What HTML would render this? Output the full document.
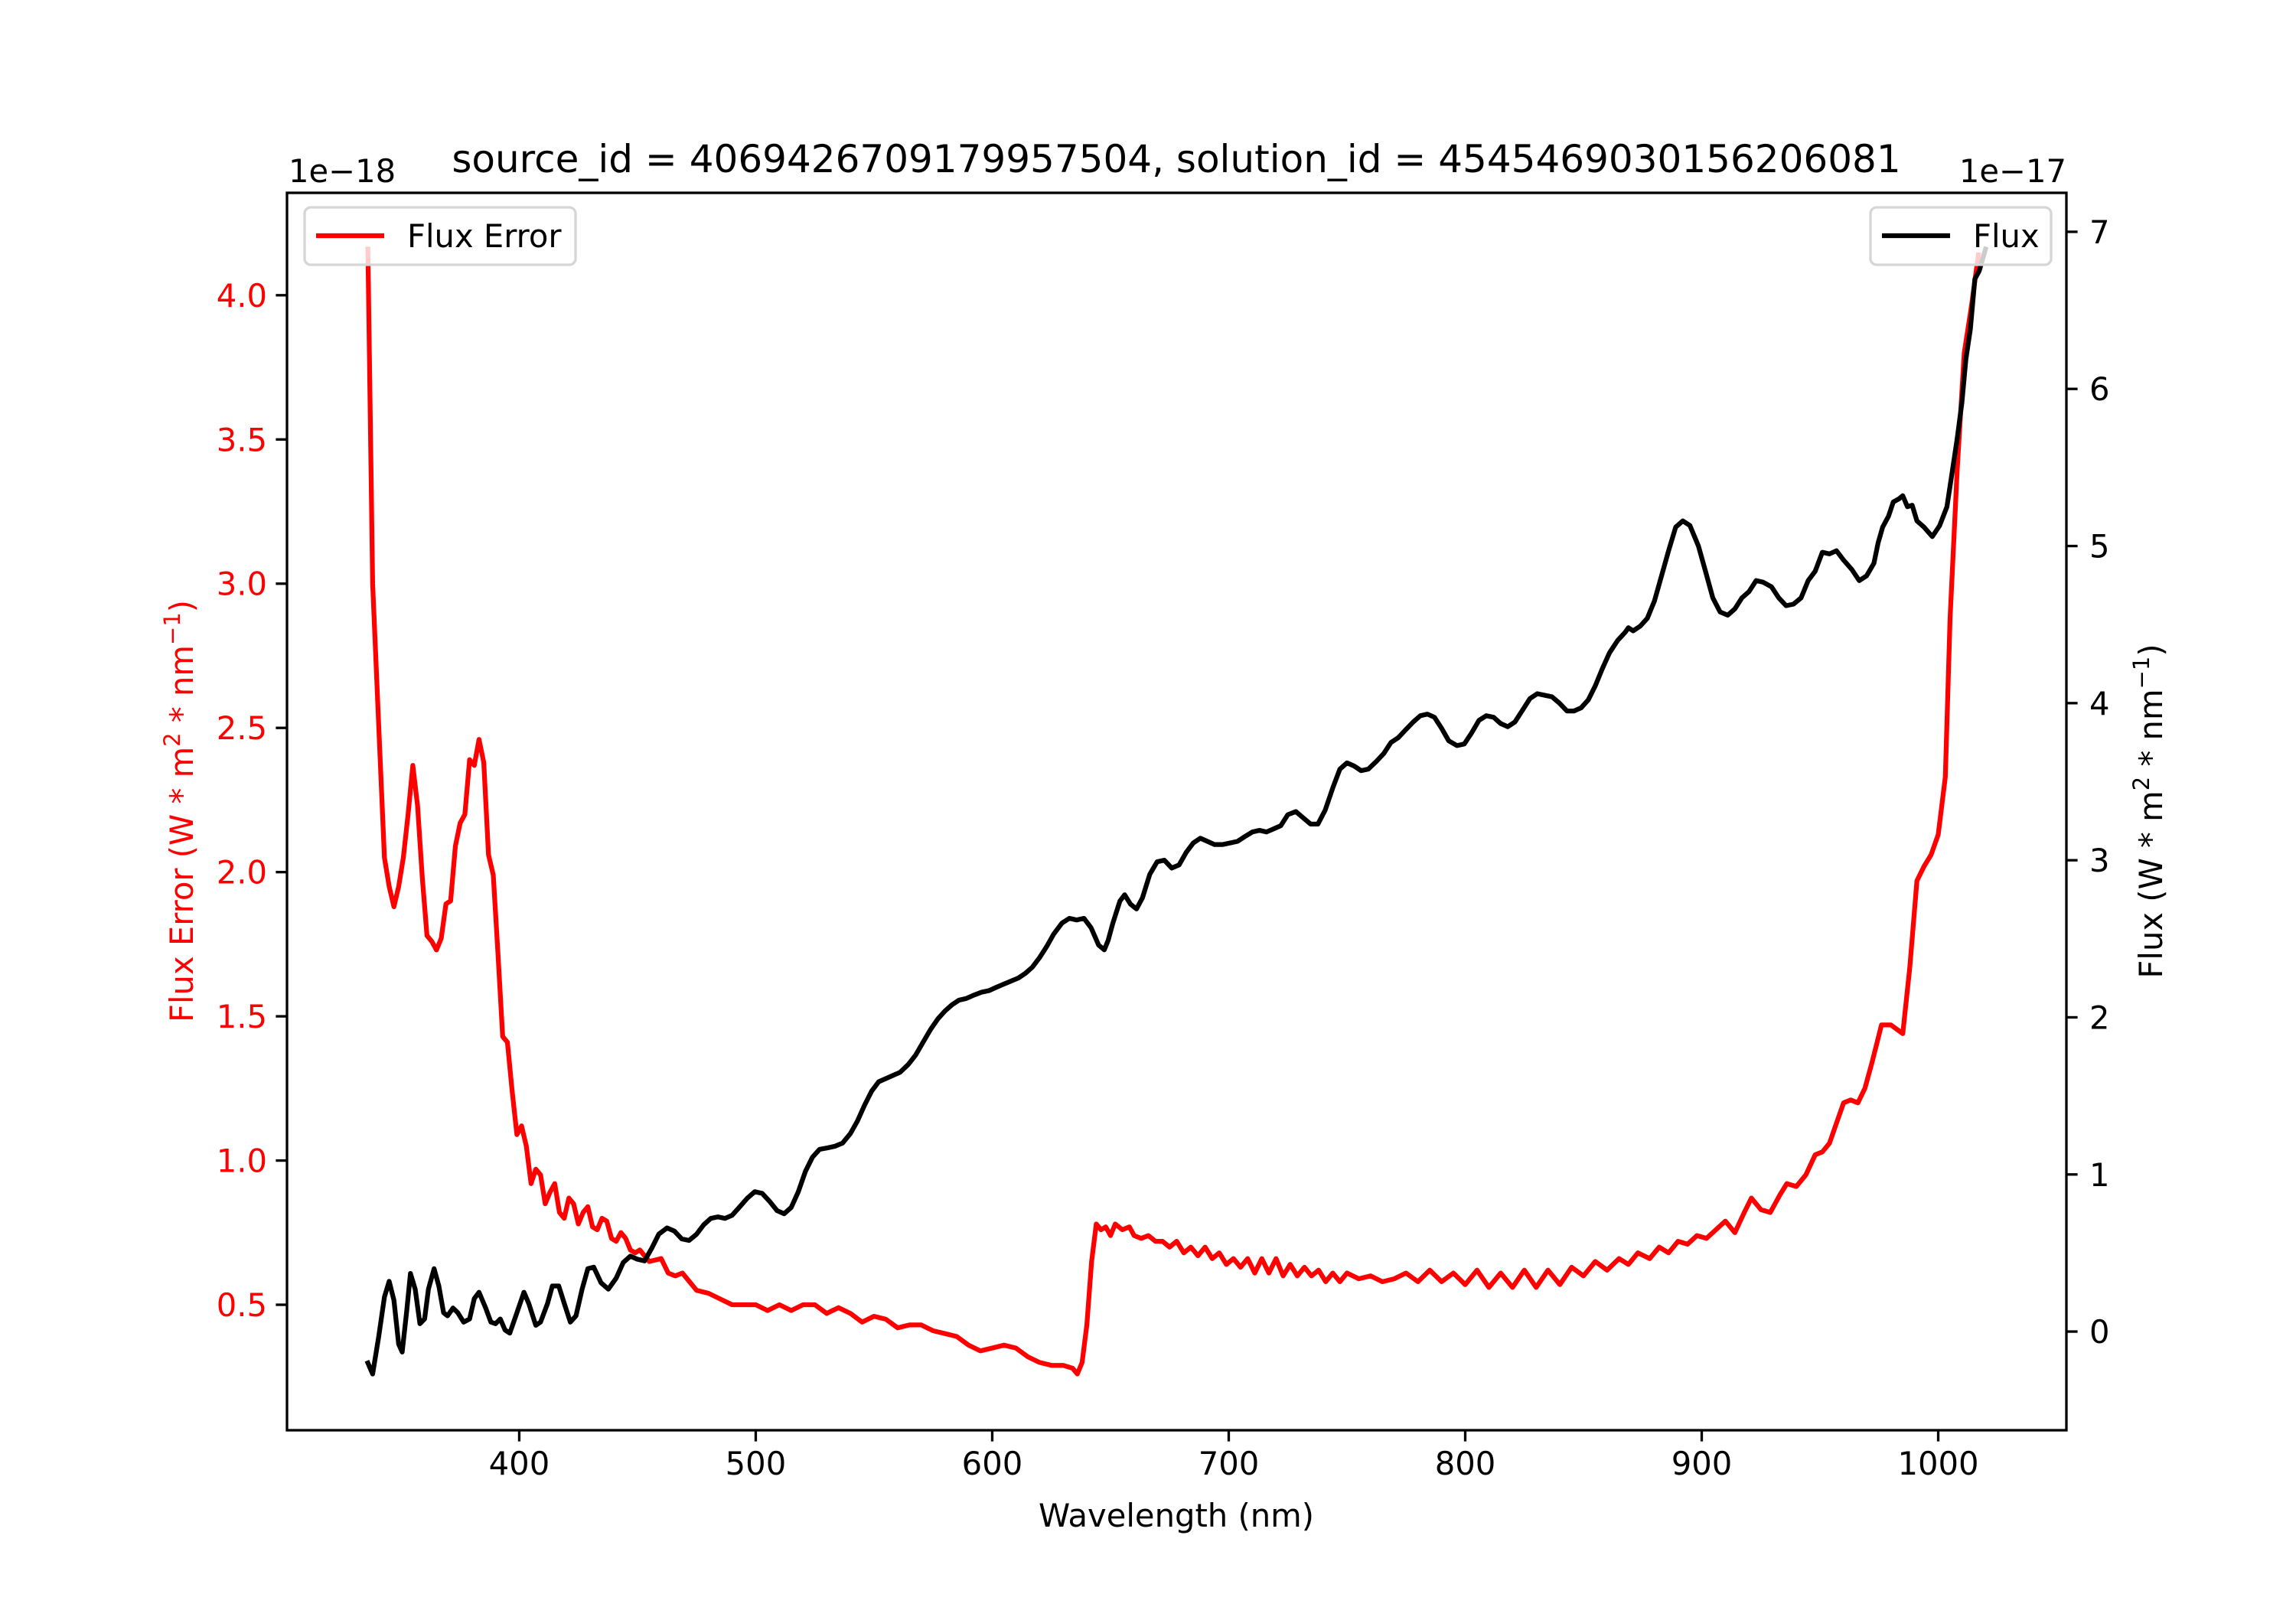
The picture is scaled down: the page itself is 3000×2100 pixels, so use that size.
<!DOCTYPE html>
<html><head><meta charset="utf-8"><style>
html,body{margin:0;padding:0;background:#fff;}
svg{display:block;font-family:"DejaVu Sans","Liberation Sans",sans-serif;}
</style></head><body>
<svg id="chart" width="3000" height="2100" viewBox="0 0 3000 2100" xmlns="http://www.w3.org/2000/svg">
<rect x="0" y="0" width="3000" height="2100" fill="#fff"/>
<g id="plot"></g>
</svg>
<script>
const errWl = [336,338,341,343,345,347,349,351,353,355,357,359,361,363,365,367,369,371,373,375,377,379,381,383,385,387,389,391,393,395,397,399,401,403,405,407,409,411,413,415,417,419,421,423,425,427,429,431,433,435,437,439,441,443,445,447,449,451,453,455,460,463,466,469,472,475,480,485,490,495,500,505,510,515,520,525,530,535,540,545,550,555,560,565,570,575,580,585,590,595,600,605,610,615,620,625,630,634,636,638,640,642,644,646,648,650,652,655,658,660,663,666,669,672,675,678,681,684,687,690,693,696,699,702,705,708,711,714,717,720,723,726,729,732,735,738,741,744,747,750,755,760,765,770,775,780,785,790,795,800,805,810,815,820,825,830,835,840,845,850,855,860,865,869,873,878,882,886,890,894,898,902,906,910,914,918,921,925,929,933,936,940,944,948,951,954,957,960,963,966,969,972,976,980,985,988,991,994,997,1000,1003,1005,1008,1011,1014,1017,1020];
const errVal = [4.16,3.0,2.43,2.05,1.95,1.88,1.95,2.05,2.2,2.37,2.23,1.98,1.78,1.76,1.73,1.77,1.89,1.90,2.09,2.17,2.2,2.39,2.37,2.46,2.38,2.06,1.99,1.72,1.43,1.41,1.24,1.09,1.12,1.05,0.92,0.97,0.95,0.85,0.89,0.92,0.82,0.80,0.87,0.85,0.78,0.82,0.84,0.77,0.76,0.80,0.79,0.73,0.72,0.75,0.73,0.69,0.68,0.69,0.67,0.65,0.66,0.61,0.60,0.61,0.58,0.55,0.54,0.52,0.50,0.50,0.50,0.48,0.50,0.48,0.50,0.50,0.47,0.49,0.47,0.44,0.46,0.45,0.42,0.43,0.43,0.41,0.40,0.39,0.36,0.34,0.35,0.36,0.35,0.32,0.30,0.29,0.29,0.28,0.26,0.30,0.43,0.65,0.78,0.76,0.77,0.74,0.78,0.76,0.77,0.74,0.73,0.74,0.72,0.72,0.70,0.72,0.68,0.70,0.67,0.70,0.66,0.68,0.64,0.66,0.63,0.66,0.61,0.66,0.61,0.66,0.60,0.64,0.60,0.63,0.60,0.62,0.58,0.61,0.58,0.61,0.59,0.60,0.58,0.59,0.61,0.58,0.62,0.58,0.61,0.57,0.62,0.56,0.61,0.56,0.62,0.56,0.62,0.57,0.63,0.60,0.65,0.62,0.66,0.64,0.68,0.66,0.70,0.68,0.72,0.71,0.74,0.73,0.76,0.79,0.75,0.82,0.87,0.83,0.82,0.88,0.92,0.91,0.95,1.02,1.03,1.06,1.13,1.20,1.21,1.20,1.25,1.34,1.47,1.47,1.44,1.67,1.97,2.02,2.06,2.13,2.33,2.88,3.39,3.80,3.96,4.14];
const fluxWl = [336,338,340.6,343,345,347,349,350.5,352.4,354,356,358,360,361.6,364,366,368,369.7,372,374,376.5,379,381,383,385.8,388,390,392,394,396,398.8,402,404,407,409,412,414,416.7,419,421.6,424,426.6,429,431.5,434.6,437.7,441,444,447,450,453,456,459,462.5,465.6,468.7,471.8,475,478,481,484,487,490,493,496.5,499.6,502.7,505.8,509,512,515,518,521,524,527,530.5,533.6,536.7,540,543,546,549,552,555,558,561,564.5,567.6,570.7,573.8,577,580,583,586,589,592,595.5,598.6,601.6,604.7,607.8,611,614,617,620,623,626,629.5,632.6,635.7,638.8,641.8,645,647.4,649,651,654,656,658.5,661,663.5,666.6,669.7,672.8,675.9,679,682,685,688,691,694,697.5,700.6,703.7,706.8,710,713,716,719,722,725,728.4,731.5,734.6,737.7,740.8,744,747,750,753,756,759,762.5,765.6,768.6,771.7,774.8,778,781,784,787,790,793,796.5,799.6,802.7,805.8,808.9,812,815,818,821,824,827.4,830.5,833.6,836.7,839.8,843,846,849,852,855,858,861,864.5,867.6,869,871,874,877,880,883,886,889,892,895,898.6,901.6,904.7,907.8,911,914,917,920,923,926,929.5,932.6,935.7,938.8,942,945,948,951,954,957,960,963.5,966.6,969.7,972.8,974.6,976.5,979,981,983.4,985,987,989,991,994,997.5,1000.6,1003.7,1005.6,1008,1010,1011.7,1013.6,1015.5,1017.3,1020];
const fluxVal = [-0.20,-0.27,-0.03,0.22,0.32,0.20,-0.08,-0.13,0.13,0.37,0.27,0.05,0.08,0.27,0.40,0.29,0.12,0.10,0.15,0.12,0.06,0.08,0.21,0.25,0.15,0.06,0.05,0.08,0.01,-0.01,0.11,0.25,0.18,0.04,0.06,0.18,0.29,0.29,0.18,0.06,0.10,0.27,0.40,0.41,0.31,0.27,0.34,0.44,0.48,0.46,0.45,0.53,0.62,0.66,0.64,0.59,0.58,0.62,0.68,0.72,0.73,0.72,0.74,0.79,0.85,0.89,0.88,0.83,0.77,0.75,0.79,0.89,1.02,1.11,1.16,1.17,1.18,1.20,1.26,1.34,1.44,1.53,1.59,1.61,1.63,1.65,1.70,1.76,1.84,1.92,1.99,2.04,2.08,2.11,2.12,2.14,2.16,2.17,2.19,2.21,2.23,2.25,2.28,2.32,2.38,2.45,2.53,2.60,2.63,2.62,2.63,2.57,2.46,2.43,2.49,2.60,2.74,2.78,2.72,2.69,2.76,2.91,2.99,3.00,2.95,2.97,3.05,3.11,3.14,3.12,3.10,3.10,3.11,3.12,3.15,3.18,3.19,3.18,3.20,3.22,3.29,3.31,3.27,3.23,3.23,3.32,3.46,3.58,3.62,3.60,3.57,3.58,3.63,3.68,3.75,3.78,3.83,3.88,3.92,3.93,3.91,3.84,3.76,3.73,3.74,3.81,3.89,3.92,3.91,3.87,3.85,3.88,3.95,4.03,4.06,4.05,4.04,4.00,3.95,3.95,3.97,4.02,4.11,4.22,4.32,4.40,4.45,4.48,4.46,4.49,4.54,4.65,4.81,4.97,5.12,5.16,5.13,5.00,4.84,4.67,4.58,4.56,4.60,4.67,4.71,4.78,4.77,4.74,4.67,4.62,4.63,4.67,4.78,4.84,4.96,4.95,4.97,4.91,4.85,4.78,4.81,4.89,5.02,5.12,5.19,5.28,5.30,5.32,5.25,5.26,5.16,5.12,5.06,5.13,5.25,5.44,5.68,5.91,6.19,6.38,6.70,6.75,6.89];
const xTicks = [400,500,600,700,800,900,1000];
const errTicks = [0.5,1.0,1.5,2.0,2.5,3.0,3.5,4.0];
const fluxTicks = [0,1,2,3,4,5,6,7];

const NS="http://www.w3.org/2000/svg";
const L=375,R=2700,T=252,B=1869;
function lim(a){const mn=Math.min(...a),mx=Math.max(...a),m=(mx-mn)*0.05;return [mn-m,mx+m];}
const allX=errWl.concat(fluxWl);
const [x0,x1]=lim(allX);
const [e0,e1]=lim(errVal);
const [f0,f1]=lim(fluxVal);
function sx(v){return L+(v-x0)/(x1-x0)*(R-L);}
function se(v){return B-(v-e0)/(e1-e0)*(B-T);}
function sf(v){return B-(v-f0)/(f1-f0)*(B-T);}
const g=document.getElementById('plot');
function mk(tag,attrs,parent){const e=document.createElementNS(NS,tag);for(const k in attrs)e.setAttribute(k,attrs[k]);(parent||g).appendChild(e);return e;}

const defs=mk('defs',{});
const cp=mk('clipPath',{id:'clip'},defs);
mk('rect',{x:L,y:T,width:R-L,height:B-T},cp);

const errPath=mk('path',{d:errWl.map((w,i)=>(i?'L':'M')+sx(w).toFixed(1)+','+se(errVal[i]).toFixed(1)).join(''),fill:'none',stroke:'#ff0000','stroke-width':6.25,'stroke-linejoin':'round','stroke-linecap':'square','clip-path':'url(#clip)'});


const fluxPath=mk('path',{d:fluxWl.map((w,i)=>(i?'L':'M')+sx(w).toFixed(1)+','+sf(fluxVal[i]).toFixed(1)).join(''),fill:'none',stroke:'#000','stroke-width':6.25,'stroke-linejoin':'round','stroke-linecap':'square','clip-path':'url(#clip)'});



const fr=mk('rect',{x:L,y:T,width:R-L,height:B-T,fill:'none',stroke:'#000','stroke-width':3.3});



xTicks.forEach(v=>{const x=sx(v);
 const t=mk('line',{x1:x,y1:B,x2:x,y2:B+14.6,stroke:'#000','stroke-width':3.3});
 
 
 const tx=mk('text',{x:x,y:B+58,'font-size':41.7,'text-anchor':'middle',fill:'#000'});tx.textContent=v;
 
 
});
errTicks.forEach(v=>{const y=se(v);
 const t=mk('line',{x1:L,y1:y,x2:L-14.6,y2:y,stroke:'#000','stroke-width':3.3});
 
 
 const tx=mk('text',{x:L-26,y:y+15,'font-size':41.7,'text-anchor':'end',fill:'#ff0000'});tx.textContent=v.toFixed(1);
 
 
});
fluxTicks.forEach(v=>{const y=sf(v);
 const t=mk('line',{x1:R,y1:y,x2:R+14.6,y2:y,stroke:'#000','stroke-width':3.3});
 
 
 const tx=mk('text',{x:R+30,y:y+15,'font-size':41.7,'text-anchor':'start',fill:'#000'});tx.textContent=v;
 
 
});
</script>
<svg style="position:absolute;left:0;top:0" width="3000" height="2100" viewBox="0 0 3000 2100" xmlns="http://www.w3.org/2000/svg" font-family="DejaVu Sans, Liberation Sans, sans-serif">
<text x="1537" y="225" font-size="50" text-anchor="middle">source_id = 4069426709179957504, solution_id = 4545469030156206081</text>
<text x="377" y="238" font-size="41.7">1e−18</text>
<text x="2700" y="238" font-size="41.7" text-anchor="end">1e−17</text>
<text x="1537" y="1995" font-size="41.7" text-anchor="middle">Wavelength (nm)</text>
<text transform="translate(252,1060) rotate(-90)" font-size="41.7" text-anchor="middle" fill="#ff0000">Flux Error (W * m<tspan baseline-shift="super" font-size="29">2</tspan> * nm<tspan baseline-shift="super" font-size="29">−1</tspan>)</text>
<text transform="translate(2825,1060) rotate(-90)" font-size="41.7" text-anchor="middle" fill="#000">Flux (W * m<tspan baseline-shift="super" font-size="29">2</tspan> * nm<tspan baseline-shift="super" font-size="29">−1</tspan>)</text>
<g>
<rect x="398" y="271" width="354" height="75" rx="8" fill="#fff" fill-opacity="0.8" stroke="#d6d6d6" stroke-width="3.3"/>
<line x1="413" y1="308" x2="502" y2="308" stroke="#ff0000" stroke-width="6.25"/>
<text x="532" y="323" font-size="41.7">Flux Error</text>
</g>
<g>
<rect x="2444" y="271" width="236" height="75" rx="8" fill="#fff" fill-opacity="0.8" stroke="#d6d6d6" stroke-width="3.3"/>
<line x1="2459" y1="308" x2="2548" y2="308" stroke="#000" stroke-width="6.25"/>
<text x="2578" y="323" font-size="41.7">Flux</text>
</g>
</svg>
</body></html>
